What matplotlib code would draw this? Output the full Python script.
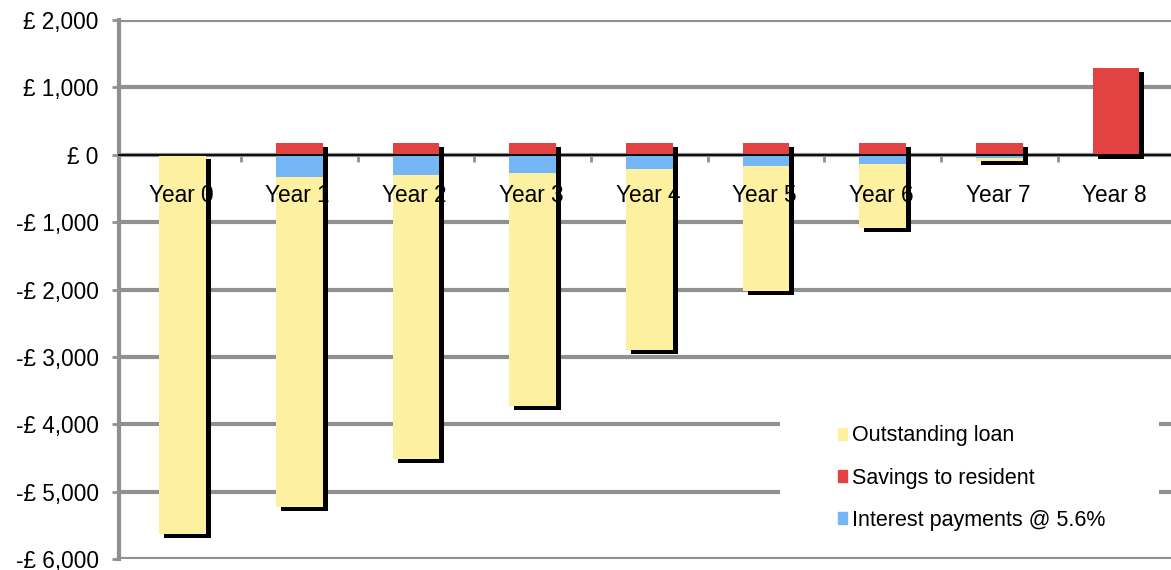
import matplotlib
matplotlib.use("Agg")
import matplotlib.pyplot as plt
import matplotlib.transforms as mtransforms
from matplotlib.patches import Patch, Rectangle

plt.rcParams['font.family'] = ['Liberation Sans', 'DejaVu Sans']

# Data
years = ['Year 0', 'Year 1', 'Year 2', 'Year 3', 'Year 4',
         'Year 5', 'Year 6', 'Year 7', 'Year 8']
outstanding_loan = [-5630, -4900, -4220, -3465, -2680, -1855, -945, -45, 0]
interest = [0, -330, -300, -265, -210, -165, -135, -45, 0]
savings = [0, 180, 180, 180, 180, 180, 180, 180, 1290]
yticks = [2000, 1000, 0, -1000, -2000, -3000, -4000, -5000, -6000]

c_loan = '#FDF0A0'
c_save = '#E04341'
c_int = '#74B6F6'
c_grid = '#909090'
fs = 16.3

fig = plt.figure(figsize=(11.71, 5.70), dpi=100)
ax = fig.add_axes([0.102, 0.019, 0.898, 0.946])

x = list(range(len(years)))
w = 0.4

# drop shadow behind each column
shadow_tr = mtransforms.offset_copy(ax.transData, fig=fig, x=5, y=-4, units='dots')
totals = [l + i for l, i in zip(outstanding_loan, interest)]
heights = [s - t for s, t in zip(savings, totals)]
ax.bar(x, heights, w, bottom=totals, color='black', transform=shadow_tr, zorder=2)

ax.bar(x, savings, w, color=c_save, zorder=3)
ax.bar(x, interest, w, color=c_int, zorder=3)
ax.bar(x, outstanding_loan, w, bottom=interest, color=c_loan, zorder=3)

ax.set_xlim(-0.54, 8.47)
ax.set_ylim(-6000, 2000)
ax.set_yticks(yticks)
ax.set_yticklabels([('-' if v < 0 else '') + '£ ' + f'{abs(v):,}' for v in yticks],
                   fontsize=fs)
ax.yaxis.grid(True, color=c_grid, linewidth=3, zorder=0)
ax.set_axisbelow(True)

for s in ['top', 'right']:
    ax.spines[s].set_visible(False)
ax.spines['left'].set_color(c_grid)
ax.spines['left'].set_linewidth(3)
ax.spines['bottom'].set_position(('data', 0))
ax.spines['bottom'].set_color('black')
ax.spines['bottom'].set_linewidth(1.3)
ax.spines['bottom'].set_zorder(4)
ax.tick_params(axis='y', length=5, width=2, color=c_grid, pad=10)

ax.set_xticks([i + 0.5 for i in x[:-1]])
ax.set_xticklabels([])
ax.tick_params(axis='x', length=5, width=2, color=c_grid, direction='out')

for i, lab in enumerate(years):
    ax.annotate(lab, (i, 0), xytext=(-1, -29.5), textcoords='offset points',
                ha='center', va='center', fontsize=fs, zorder=6)

handles = [Patch(color=c_loan), Patch(color=c_save), Patch(color=c_int)]
labels = ['Outstanding loan', 'Savings to resident', 'Interest payments @ 5.6%']
leg = ax.legend(handles, labels, loc='upper left', bbox_to_anchor=(0.683, 0.248),
                frameon=False, fontsize=15.5, handlelength=0.45, handleheight=0.45,
                handletextpad=0.2, labelspacing=0.98, borderpad=0,
                borderaxespad=0)
leg.set_zorder(7)

# white box behind the legend, padded around it
fig.canvas.draw()
bb = leg.get_window_extent()
ax.add_patch(Rectangle((bb.x0 - 58, bb.y0 - 22), bb.width + 112, bb.height + 44,
                       transform=mtransforms.IdentityTransform(),
                       facecolor='white', edgecolor='none', zorder=1))

fig.savefig('out.png', dpi=100)
